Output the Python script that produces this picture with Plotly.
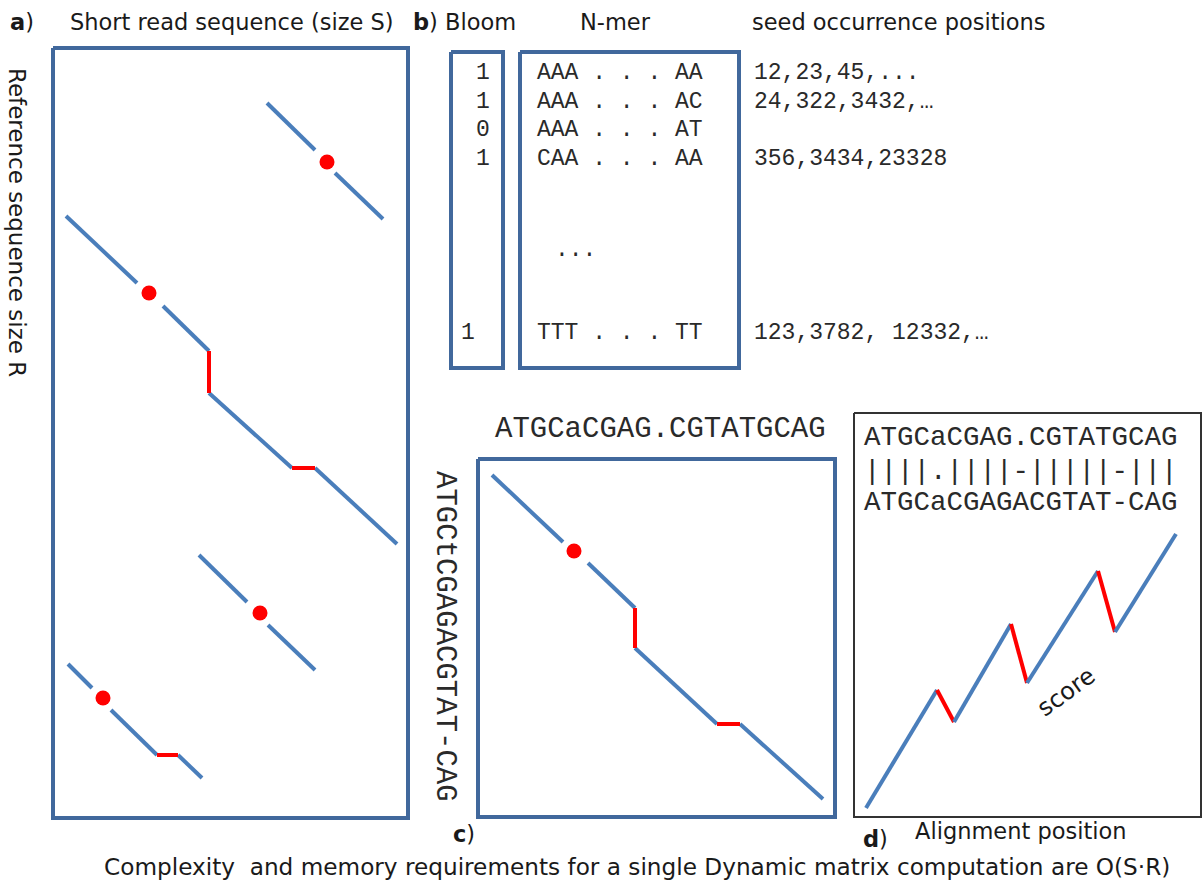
import plotly.graph_objects as go

# ---------------- data (diagram coordinates, canvas units) ----------------
# panel a: alignment diagonals in the reference x read matrix
a_blue_x = [[267, 315], [335, 383],
            [66, 137], [163, 209], [209, 292], [315, 397],
            [199, 247], [268, 315],
            [68, 92], [111, 157], [178, 202]]
a_blue_y = [[103, 150], [173, 219],
            [216, 283], [306, 351], [393, 468], [468, 544],
            [555, 602], [625, 670],
            [664, 688], [710, 755], [755, 778]]
a_red_x = [[209, 209], [292, 315], [157, 178]]
a_red_y = [[351, 393], [468, 468], [755, 755]]
a_seed_x = [327, 149, 260, 103]
a_seed_y = [162, 293, 613, 698]

# panel b: Bloom filter / N-mer index table
bloom_bits = ["1", "1", "0", "1"]
nmers = ["AAA . . . AA", "AAA . . . AC", "AAA . . . AT", "CAA . . . AA"]
positions = ["12,23,45,...", "24,322,3432,…", "", "356,3434,23328"]
row_y = [73, 102, 130, 159]
last_bit, last_nmer, last_pos = "1", "TTT . . . TT", "123,3782, 12332,…"

# panel c: dynamic matrix path
c_blue_x = [[492, 563], [588, 635], [635, 717], [740, 823]]
c_blue_y = [[475, 542], [563, 608], [648, 724], [724, 799]]
c_red_x = [[635, 635], [717, 740]]
c_red_y = [[608, 648], [724, 724]]
c_seed_x = [574]
c_seed_y = [551]
read_seq = "ATGCaCGAG.CGTATGCAG"
ref_seq = "ATGCtCGAGACGTAT-CAG"

# panel d: score along alignment position
d_x = [866, 937, 954, 1011, 1027, 1098, 1115, 1176]
d_y = [808, 690, 722, 624, 683, 571, 632, 534]
d_kind = ["b", "r", "b", "r", "b", "r", "b"]   # segment colour between consecutive points
align_lines = ["ATGCaCGAG.CGTATGCAG", "||||.||||-|||||-|||", "ATGCaCGAGACGTAT-CAG"]

# boxes: (x0, y0, x1, y1)
boxes_blue = [(53, 48, 408, 818), (451, 52, 503, 368), (520, 52, 739, 368), (478, 459, 835, 817)]
box_d = (854, 413, 1201, 817)

# ---------------- styling ----------------
BLUE = "#4A7EBB"
BOXBLUE = "#41689C"
RED = "#FF0000"
SANS = "DejaVu Sans"
MONO = "Courier New, Nimbus Mono PS, Liberation Mono, monospace"
W, H = 1203, 885

fig = go.Figure()

def seg(xs, ys, color, width=4):
    fig.add_trace(go.Scatter(x=xs, y=ys, mode="lines", line=dict(color=color, width=width),
                             hoverinfo="skip", showlegend=False))

def rect(b, color, width):
    x0, y0, x1, y1 = b
    fig.add_trace(go.Scatter(x=[x0, x1, x1, x0, x0], y=[y0, y0, y1, y1, y0], mode="lines",
                             line=dict(color=color, width=width), hoverinfo="skip", showlegend=False))

for b in boxes_blue:
    rect(b, BOXBLUE, 4)
rect(box_d, "#333333", 2)

for xs, ys in zip(a_blue_x, a_blue_y):
    seg(xs, ys, BLUE)
for xs, ys in zip(a_red_x, a_red_y):
    seg(xs, ys, RED)
for xs, ys in zip(c_blue_x, c_blue_y):
    seg(xs, ys, BLUE)
for xs, ys in zip(c_red_x, c_red_y):
    seg(xs, ys, RED)
for i, k in enumerate(d_kind):
    seg(d_x[i:i + 2], d_y[i:i + 2], BLUE if k == "b" else RED)

fig.add_trace(go.Scatter(x=a_seed_x + c_seed_x, y=a_seed_y + c_seed_y, mode="markers",
                         marker=dict(color=RED, size=15, line=dict(width=0)),
                         hoverinfo="skip", showlegend=False))

ann = []
def txt(x, y, s, size, font=SANS, anchor="left", angle=0, color="#1a1a1a"):
    ann.append(dict(x=x, y=y, xref="x", yref="y", text=s, showarrow=False, xanchor=anchor,
                    yanchor="middle", textangle=angle,
                    font=dict(family=font, size=size, color=color)))

MONO_C = "#2a2a2a"

# titles
txt(8, 22, "<b>a</b>)", 22.5)
txt(68, 22, "Short read sequence (size S)", 22.5)
txt(411, 22, "<b>b</b>) Bloom", 22.5)
txt(615, 22, "N-mer", 22.5, anchor="center")
txt(750, 22, "seed occurrence positions", 22.5)
txt(17, 222, "Reference sequence size R", 23, anchor="center", angle=90)

# panel b table
for b, n, p, y in zip(bloom_bits, nmers, positions, row_y):
    txt(492, y, b, 23, font=MONO, anchor="right", color=MONO_C)
    txt(535, y, n, 23, font=MONO, color=MONO_C)
    if p:
        txt(752, y, p, 23, font=MONO, color=MONO_C)
txt(553, 250, "...", 23, font=MONO, color=MONO_C)
txt(477, 333, last_bit, 23, font=MONO, anchor="right", color=MONO_C)
txt(535, 333, last_nmer, 23, font=MONO, color=MONO_C)
txt(752, 333, last_pos, 23, font=MONO, color=MONO_C)

# panel c
txt(660, 429, read_seq, 29, font=MONO, anchor="center", color=MONO_C)
txt(445, 636, ref_seq, 29, font=MONO, anchor="center", angle=90, color=MONO_C)

# panel d
for s, y in zip(align_lines, [437, 471, 502]):
    txt(862, y, s, 27.5, font=MONO, color=MONO_C)
txt(1066, 692, "score", 24, anchor="center", angle=-36)

# bottom labels
txt(451, 834, "<b>c</b>)", 22.5)
txt(861, 839, "<b>d</b>)", 22.5)
txt(913, 831, "Alignment position", 22.5)
txt(637, 866, "Complexity  and memory requirements for a single Dynamic matrix computation are O(S·R)",
    23.2, anchor="center")

fig.update_layout(
    width=W, height=H, autosize=False,
    margin=dict(l=0, r=0, t=0, b=0),
    paper_bgcolor="white", plot_bgcolor="white",
    xaxis=dict(range=[0, W], visible=False, fixedrange=True),
    yaxis=dict(range=[H, 0], visible=False, fixedrange=True),
    annotations=ann,
)
fig.write_html("out.html", config={"displayModeBar": False},
               post_script="document.body.style.margin='0';document.body.style.overflow='hidden';")
